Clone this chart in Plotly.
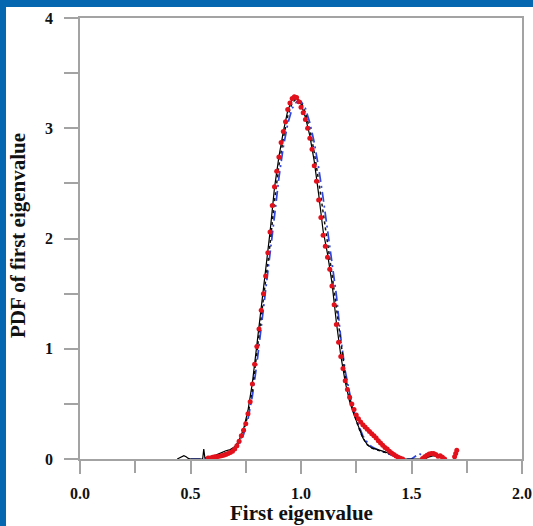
import plotly.graph_objects as go

# ---- data ----
red_x = [0.58, 0.59, 0.60, 0.61, 0.62, 0.63, 0.64, 0.65, 0.66, 0.67, 0.68, 0.69,
         0.70, 0.71, 0.72, 0.73, 0.74, 0.75, 0.76, 0.77, 0.78, 0.79, 0.80, 0.81,
         0.82, 0.83, 0.84, 0.85, 0.86, 0.87, 0.88, 0.89, 0.90, 0.91, 0.92, 0.93,
         0.94, 0.95, 0.96, 0.97, 0.98, 0.99, 1.00, 1.01, 1.02, 1.03, 1.04, 1.05,
         1.06, 1.07, 1.08, 1.09, 1.10, 1.11, 1.12, 1.13, 1.14, 1.15, 1.16, 1.17,
         1.18, 1.19, 1.20, 1.21, 1.22, 1.23, 1.24, 1.25, 1.26, 1.27, 1.28, 1.29,
         1.30, 1.31, 1.32, 1.33, 1.34, 1.35, 1.36, 1.37, 1.38, 1.39, 1.40, 1.41,
         1.42, 1.43, 1.44, 1.45, 1.46,
         1.55, 1.56, 1.57, 1.58, 1.59, 1.60, 1.61, 1.62, 1.63, 1.64, 1.65,
         1.695, 1.70, 1.705]
red_y = [0.01, 0.01, 0.015, 0.02, 0.02, 0.025, 0.03, 0.035, 0.04, 0.05, 0.06, 0.07,
         0.09, 0.12, 0.16, 0.21, 0.26, 0.32, 0.41, 0.52, 0.68, 0.86, 1.02, 1.18,
         1.35, 1.50, 1.66, 1.87, 2.06, 2.30, 2.47, 2.61, 2.74, 2.87, 2.97, 3.06,
         3.17, 3.23, 3.27, 3.285, 3.28, 3.24, 3.19, 3.14, 3.08, 3.00, 2.91, 2.81,
         2.66, 2.52, 2.35, 2.19, 2.03, 1.93, 1.83, 1.72, 1.57, 1.40, 1.22, 1.06,
         0.93, 0.82, 0.71, 0.63, 0.56, 0.50, 0.45, 0.40, 0.365, 0.335, 0.31, 0.29,
         0.27, 0.25, 0.23, 0.21, 0.19, 0.165, 0.145, 0.125, 0.105, 0.09, 0.07, 0.055,
         0.04, 0.028, 0.016, 0.006, 0.0,
         0.005, 0.02, 0.035, 0.045, 0.05, 0.05, 0.04, 0.025, 0.03, 0.015, 0.0,
         0.02, 0.05, 0.08]

black_x = [0.44, 0.46, 0.47, 0.48, 0.49, 0.50, 0.555, 0.56, 0.565, 0.58, 0.60, 0.62,
           0.64, 0.66, 0.68, 0.70, 0.72, 0.74, 0.76, 0.78, 0.80, 0.82, 0.84, 0.86,
           0.88, 0.90, 0.92, 0.94, 0.96, 0.98, 1.00, 1.02, 1.04, 1.06, 1.08, 1.10,
           1.12, 1.14, 1.16, 1.18, 1.20, 1.22, 1.24, 1.26, 1.28, 1.30, 1.32, 1.34,
           1.36, 1.38, 1.40, 1.42, 1.44, 1.46, 1.47, 1.56, 1.58, 1.60, 1.62, 1.64, 1.66]
black_y = [0.0, 0.025, 0.03, 0.02, 0.005, 0.0, 0.0, 0.09, 0.01, 0.01, 0.02, 0.04,
           0.06, 0.075, 0.085, 0.11, 0.17, 0.27, 0.44, 0.69, 1.03, 1.37, 1.68, 2.06,
           2.46, 2.74, 2.97, 3.16, 3.26, 3.275, 3.22, 3.10, 2.93, 2.70, 2.40, 2.07,
           1.86, 1.60, 1.24, 0.94, 0.70, 0.52, 0.40, 0.29, 0.19, 0.13, 0.10, 0.09,
           0.08, 0.065, 0.05, 0.035, 0.018, 0.004, 0.0, 0.0, 0.02, 0.03, 0.02, 0.01, 0.0]

dot_x = [0.60, 0.64, 0.68, 0.70, 0.72, 0.74, 0.76, 0.78, 0.80, 0.82, 0.84, 0.86,
         0.88, 0.90, 0.92, 0.94, 0.96, 0.98, 1.00, 1.02, 1.04, 1.06, 1.08, 1.10,
         1.12, 1.14, 1.16, 1.18, 1.20, 1.22, 1.24, 1.26, 1.28, 1.30, 1.32, 1.34,
         1.36, 1.38, 1.40, 1.42, 1.44, 1.46]
dot_y = [0.015, 0.04, 0.07, 0.09, 0.15, 0.25, 0.40, 0.63, 0.95, 1.28, 1.60, 1.95,
         2.34, 2.66, 2.91, 3.11, 3.23, 3.27, 3.24, 3.14, 2.99, 2.78, 2.52, 2.22,
         1.96, 1.68, 1.36, 1.03, 0.76, 0.56, 0.41, 0.29, 0.19, 0.13, 0.10, 0.085,
         0.075, 0.06, 0.045, 0.03, 0.015, 0.0]

blue_x = [0.50, 0.56, 0.60, 0.64, 0.68, 0.70, 0.72, 0.74, 0.76, 0.78, 0.80, 0.82,
          0.84, 0.86, 0.88, 0.90, 0.92, 0.94, 0.96, 0.98, 1.00, 1.02, 1.04, 1.06,
          1.08, 1.10, 1.12, 1.14, 1.16, 1.18, 1.20, 1.22, 1.24, 1.26, 1.28, 1.30,
          1.32, 1.34, 1.36, 1.38, 1.40, 1.42, 1.44, 1.46, 1.50, 1.52, 1.535, 1.55, 1.56]
blue_y = [0.0, 0.0, 0.01, 0.03, 0.06, 0.08, 0.13, 0.22, 0.36, 0.57, 0.86, 1.19,
          1.50, 1.82, 2.20, 2.55, 2.83, 3.04, 3.18, 3.24, 3.245, 3.18, 3.05, 2.87,
          2.64, 2.37, 2.08, 1.80, 1.49, 1.10, 0.80, 0.60, 0.43, 0.31, 0.21, 0.15,
          0.11, 0.09, 0.075, 0.06, 0.045, 0.03, 0.015, 0.0, 0.0, 0.03, 0.05, 0.03, 0.0]

x_ticks = [0.0, 0.5, 1.0, 1.5, 2.0]
x_labels = ["0.0", "0.5", "1.0", "1.5", "2.0"]
y_ticks = [0, 1, 2, 3, 4]
y_labels = ["0", "1", "2", "3", "4"]

# ---- figure ----
fig = go.Figure()
fig.add_trace(go.Scatter(x=blue_x, y=blue_y, mode="lines",
                         line=dict(color="#2f45e0", width=1.7, dash="10px,4px,2px,4px"),
                         showlegend=False))
fig.add_trace(go.Scatter(x=dot_x, y=dot_y, mode="lines",
                         line=dict(color="#111111", width=1.5, dash="dot"),
                         showlegend=False))
fig.add_trace(go.Scatter(x=black_x, y=black_y, mode="lines",
                         line=dict(color="#000000", width=1.2),
                         showlegend=False))
fig.add_trace(go.Scatter(x=red_x, y=red_y, mode="markers",
                         marker=dict(color="#e2111b", size=5),
                         showlegend=False))

W, H = 533, 526
L, R, T, B = 80, 11, 18, 67
pw, ph = W - L - R, H - T - B

def px2x(px):
    return (px - L) / pw

def py2y(py):
    return (H - B - py) / ph

axis_color = "#a3a3a3"
tick_font = dict(family="Liberation Serif", size=16, color="#111111", weight="bold")
title_font = dict(family="Liberation Serif", size=21, color="#111111", weight="bold")

fig.update_layout(
    width=W, height=H,
    margin=dict(l=L, r=R, t=T, b=B, autoexpand=False),
    paper_bgcolor="white", plot_bgcolor="white",
    xaxis=dict(range=[0, 2], tickvals=x_ticks, ticktext=x_labels, automargin=False,
               ticks="outside", ticklen=13, tickwidth=1.5, tickcolor=axis_color,
               minor=dict(dtick=0.25, tick0=0, ticks="outside", ticklen=12,
                          tickwidth=1.5, tickcolor=axis_color),
               showline=True, linecolor=axis_color, linewidth=1.5, mirror=True,
               showgrid=False, zeroline=False, tickfont=tick_font,
               ticklabelstandoff=6),
    yaxis=dict(range=[0, 4], tickvals=y_ticks, ticktext=y_labels, automargin=False,
               ticks="outside", ticklen=14, tickwidth=1.5, tickcolor=axis_color,
               minor=dict(dtick=0.5, tick0=0, ticks="outside", ticklen=14,
                          tickwidth=1.5, tickcolor=axis_color),
               showline=True, linecolor=axis_color, linewidth=1.5, mirror=True,
               showgrid=False, zeroline=False, tickfont=tick_font,
               ticklabelstandoff=8),
    annotations=[
        dict(text="First eigenvalue", xref="paper", yref="paper",
             x=px2x(301), y=py2y(513), xanchor="center", yanchor="middle",
             showarrow=False, font=title_font),
        dict(text="PDF of first eigenvalue", xref="paper", yref="paper",
             x=px2x(18), y=py2y(236), xanchor="center", yanchor="middle",
             textangle=-90, showarrow=False, font=title_font),
    ],
    shapes=[
        dict(type="rect", xref="paper", yref="paper", layer="above",
             x0=px2x(-5), x1=px2x(W + 5), y0=py2y(7), y1=py2y(-5),
             fillcolor="#0467b0", line=dict(width=0)),
        dict(type="rect", xref="paper", yref="paper", layer="above",
             x0=px2x(-5), x1=px2x(6), y0=py2y(H + 5), y1=py2y(-5),
             fillcolor="#0467b0", line=dict(width=0)),
    ],
)

fig.write_html("out.html")
